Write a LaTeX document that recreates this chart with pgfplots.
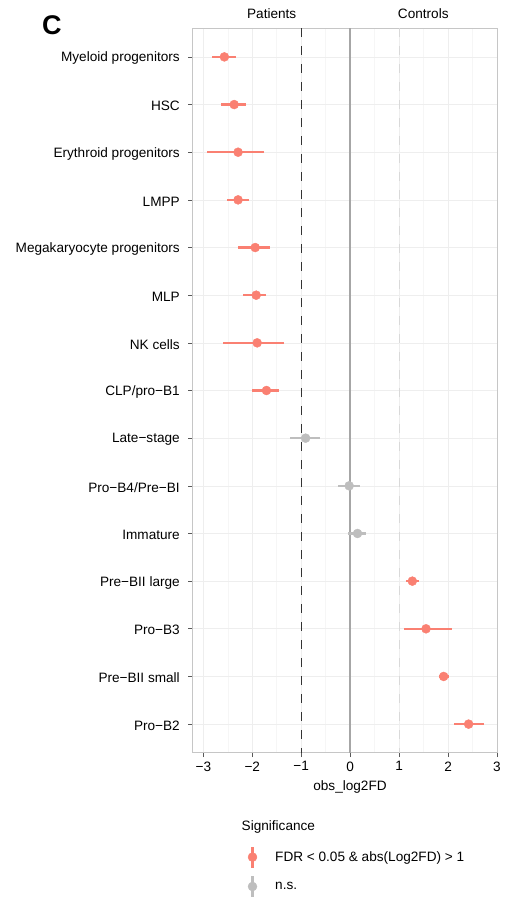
\documentclass[border=0pt]{standalone}
\usepackage{pgfplots}
\pgfplotsset{compat=1.18}
\usepackage{fontspec}
\setmainfont{Liberation Sans}
\definecolor{sig}{HTML}{FA8072}
\definecolor{ns}{HTML}{BEBEBE}
\pgfplotstableread{
y x ep em
1 -2.57 0.23 0.25
2 -2.37 0.24 0.27
3 -2.29 0.52 0.64
4 -2.29 0.23 0.23
5 -1.94 0.30 0.35
6 -1.92 0.20 0.26
7 -1.90 0.55 0.69
8 -1.71 0.26 0.30
12 1.27 0.14 0.12
13 1.55 0.53 0.45
14 1.91 0.10 0.09
15 2.42 0.31 0.30
}\sigdata
\pgfplotstableread{
y x ep em
9 -0.91 0.29 0.31
10 -0.02 0.22 0.22
11 0.15 0.18 0.20
}\nsdata
\begin{document}
\begin{tikzpicture}[x=1pt,y=1pt]
\useasboundingbox (0pt,0pt) rectangle (512pt,897pt);
\begin{axis}[
  at={(192.7pt,144.3pt)}, anchor=south west,
  scale only axis, width=304.6pt, height=724.4pt,
  xmin=-3.217, xmax=3.006, ymin=0.4, ymax=15.6, y dir=reverse,
  xtick={-3,...,3}, xticklabels={−3,−2,−1,0,1,2,3},
  minor x tick num=1,
  ytick={1,...,15},
  yticklabels={Myeloid progenitors,HSC,Erythroid progenitors,LMPP,Megakaryocyte progenitors,MLP,NK cells,CLP/pro−B1,Late−stage,Pro−B4/Pre−BI,Immature,Pre−BII large,Pro−B3,Pre−BII small,Pro−B2},
  xtick pos=lower, ytick pos=left,
  tick align=outside, major tick length=4.4pt, minor tick length=0pt,
  tick style={gray!70!black, line width=0.6pt},
  axis line style={gray!45, line width=0.8pt},
  xmajorgrids, ymajorgrids, xminorgrids,
  major grid style={gray!13, line width=0.6pt},
  minor grid style={gray!7, line width=0.5pt},
  tick label style={font=\fontsize{13.6}{16}\selectfont, black},
  yticklabel style={xshift=-5pt, yshift=-1.5pt},
  xticklabel style={yshift=-1pt},
  legend style={at={(axis description cs:0.1609,-0.1277)}, anchor=north west,
    draw=none, fill=none, inner sep=0pt, row sep=6pt, column sep=0pt,
    nodes={inner sep=0pt, font=\fontsize{13.6}{16}\selectfont}},
  legend cell align=left,
  legend image code/.code={
    \path[draw=none, fill=none] (0pt,0pt) rectangle (33.3pt,0pt);
    \draw[line width=2.4pt] (10.6pt,-10.5pt) -- (10.6pt,10.5pt);
    \fill (10.6pt,0pt) circle (4.5pt);
  },
]
\addplot[forget plot, dash pattern=on 9pt off 9pt, gray!40!black, line width=0.8pt] coordinates {(-1,0.4) (-1,15.6)};
\addplot[forget plot, gray!70, line width=1.4pt] coordinates {(0,0.4) (0,15.6)};
\addplot[forget plot, dash pattern=on 9pt off 9pt, gray!30, line width=0.8pt] coordinates {(1,0.4) (1,15.6)};
\addplot[sig, only marks, mark=*, mark size=4.5pt, mark options={draw=none, fill=sig},
  error bars/.cd, x dir=both, x explicit, error mark=none,
  error bar style={line width=2.4pt, sig}]
  table[x=x, y=y, x error plus=ep, x error minus=em] {\sigdata};
\addlegendentry{FDR < 0.05 \& abs(Log2FD) > 1}
\addplot[ns, only marks, mark=*, mark size=4.5pt, mark options={draw=none, fill=ns},
  error bars/.cd, x dir=both, x explicit, error mark=none,
  error bar style={line width=2.4pt, ns}]
  table[x=x, y=y, x error plus=ep, x error minus=em] {\nsdata};
\addlegendentry{n.s.}
\end{axis}
\node[anchor=base, font=\fontsize{13.6}{16}\selectfont] at (271.7pt,878.7pt) {Patients};
\node[anchor=base, font=\fontsize{13.6}{16}\selectfont] at (423.3pt,878.7pt) {Controls};
\node[anchor=base west, font=\fontsize{27}{30}\selectfont\bfseries, inner sep=0pt] at (42pt,862.7pt) {C};
\node[anchor=base, font=\fontsize{13.6}{16}\selectfont] at (350pt,106pt) {obs\_log2FD};
\node[anchor=base west, font=\fontsize{13.6}{16}\selectfont, inner sep=0pt] at (241.5pt,66.3pt) {Significance};
\end{tikzpicture}
\end{document}
